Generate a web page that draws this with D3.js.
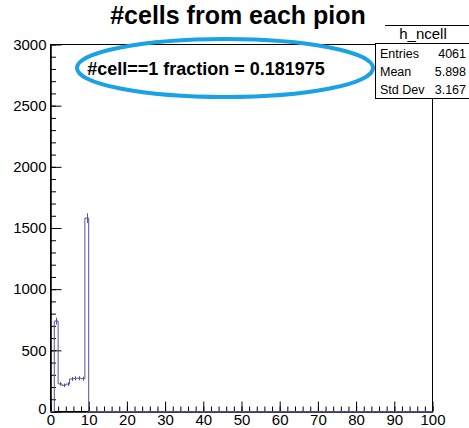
<!DOCTYPE html>
<html>
<head>
<meta charset="utf-8">
<script src="https://cdn.jsdelivr.net/npm/d3@7"></script>
<style>
  body { margin: 0; background: #fff; }
  text { font-family: "Liberation Sans", Arial, Helvetica, sans-serif; }
</style>
</head>
<body>
<div id="chart"></div>
<script>
const width = 469;
const height = 428;

// histogram h_ncell : 100 bins on [0,100), only the first ten are filled
const nBins = 100;
const binCounts = [0, 739, 226, 214, 224, 266, 271, 272, 268, 1581];
const xTicks = [0, 10, 20, 30, 40, 50, 60, 70, 80, 90, 100];
const yTicks = [0, 500, 1000, 1500, 2000, 2500, 3000];
const statLabels = ['Entries', 'Mean', 'Std Dev'];
const statValues = ['4061', '5.898', '3.167'];
const histName = 'h_ncell';
const titleText = '#cells from each pion';
const noteText = '#cell==1 fraction = 0.181975';

const margin = { top: 44, right: 37, bottom: 17, left: 50 };

const svg = d3.select('#chart').append('svg').attr('width', width).attr('height', height);
svg.append('rect').attr('width', width).attr('height', height).attr('fill', '#fff');

const x = d3.scaleLinear().domain([0, 100]).range([margin.left + 0.5, width - margin.right + 0.5]);
const y = d3.scaleLinear().domain([0, 3000]).range([height - margin.bottom + 0.5, margin.top + 0.5]);

// full list of bins, empty ones beyond the filled range
const bins = d3.range(nBins).map((i) => ({ lo: i, hi: i + 1, n: binCounts[i] || 0 }));

// frame
svg.append('rect')
	.attr('x', x(0))
	.attr('y', y(3000))
	.attr('width', x(100) - x(0))
	.attr('height', y(0) - y(3000))
	.attr('fill', 'none')
	.attr('stroke', '#000')
	.attr('stroke-width', 1);

// axes, ticks pointing inside like ROOT
svg.append('g')
	.attr('transform', `translate(0, ${y(0)})`)
	.call(d3.axisBottom(x).tickValues(xTicks).tickSizeInner(-10).tickSizeOuter(0).tickPadding(3));
svg.append('g')
	.attr('transform', `translate(0, ${y(0)})`)
	.call(d3.axisBottom(x).tickValues(d3.range(0, 101, 2)).tickSizeInner(-5).tickSizeOuter(0).tickFormat(''));

const yAxis = svg.append('g')
	.attr('transform', `translate(${x(0)}, 0)`)
	.call(d3.axisLeft(y).tickValues(yTicks).tickFormat(d3.format('d')).tickSizeInner(-11).tickSizeOuter(0).tickPadding(4));
svg.append('g')
	.attr('transform', `translate(${x(0)}, 0)`)
	.call(d3.axisLeft(y).tickValues(d3.range(0, 3001, 100)).tickSizeInner(-5.5).tickSizeOuter(0).tickFormat(''));

svg.selectAll('.domain').attr('stroke', '#000');
svg.selectAll('.tick line').attr('stroke', '#000');
svg.selectAll('.tick text')
	.attr('font-family', '"Liberation Sans", Arial, sans-serif')
	.attr('font-size', 15)
	.attr('fill', '#000');
yAxis.selectAll('.tick').filter((d) => d === 0).select('text').attr('dy', '0.1em');

// step outline, drawn over the axis like ROOT does
const stepPts = [];
bins.forEach((b) => {
	stepPts.push([x(b.lo), y(b.n)]);
	stepPts.push([x(b.hi), y(b.n)]);
});
const hcol = '#5252a0';
svg.append('path')
	.attr('d', d3.line()(stepPts))
	.attr('fill', 'none')
	.attr('stroke', hcol)
	.attr('stroke-width', 1);

// error bars (sqrt N)
svg.selectAll('.err')
	.data(bins.filter((b) => b.n > 0))
	.enter()
	.append('line')
	.attr('class', 'err')
	.attr('x1', (d) => Math.round(x(d.lo + 0.5)) + 0.5)
	.attr('x2', (d) => Math.round(x(d.lo + 0.5)) + 0.5)
	.attr('y1', (d) => y(d.n + Math.sqrt(d.n)))
	.attr('y2', (d) => y(d.n - Math.sqrt(d.n)))
	.attr('stroke', hcol)
	.attr('stroke-width', 1);

// title
svg.append('text')
	.attr('x', 238)
	.attr('y', 24)
	.attr('text-anchor', 'middle')
	.attr('font-size', 25)
	.attr('font-weight', 'bold')
	.text(titleText);

// stats box
const boxX = 375.5;
svg.append('line')
	.attr('x1', 385).attr('x2', width)
	.attr('y1', 25.5).attr('y2', 25.5)
	.attr('stroke', '#000');
svg.append('text')
	.attr('x', 423)
	.attr('y', 39)
	.attr('text-anchor', 'middle')
	.attr('font-size', 15)
	.text(histName);
svg.append('rect')
	.attr('x', boxX)
	.attr('y', 43.5)
	.attr('width', 100)
	.attr('height', 55)
	.attr('fill', '#fff')
	.attr('stroke', '#000');
statLabels.forEach((lab, i) => {
	svg.append('text').attr('x', 380).attr('y', 58 + i * 18).attr('font-size', 12.5).text(lab);
	svg.append('text')
		.attr('x', 466)
		.attr('y', 58 + i * 18)
		.attr('text-anchor', 'end')
		.attr('font-size', 12.5)
		.text(statValues[i]);
});

// highlighted note
svg.append('ellipse')
	.attr('cx', 225)
	.attr('cy', 68)
	.attr('rx', 148)
	.attr('ry', 29)
	.attr('fill', 'none')
	.attr('stroke', '#19a2e6')
	.attr('stroke-width', 4);
svg.append('text')
	.attr('x', 206)
	.attr('y', 75)
	.attr('text-anchor', 'middle')
	.attr('font-size', 18)
	.attr('font-weight', 'bold')
	.text(noteText);
</script>
</body>
</html>
